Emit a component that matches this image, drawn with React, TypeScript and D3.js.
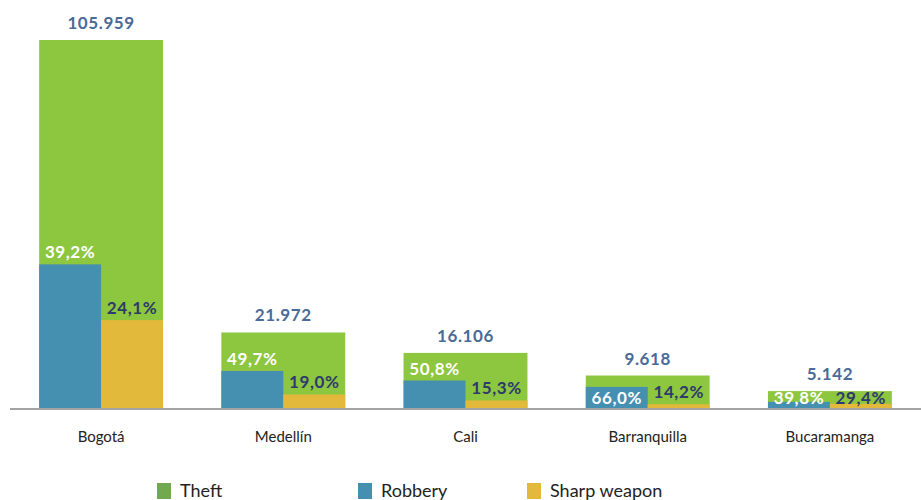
import React from "react";
import * as d3 from "d3";

const cities = ["Bogotá", "Medellín", "Cali", "Barranquilla", "Bucaramanga"];
const theft = [105.959, 21.972, 16.106, 9.618, 5.142];
const theftLabels = ["105.959", "21.972", "16.106", "9.618", "5.142"];
const robberyPct = [39.2, 49.7, 50.8, 66.0, 39.8];
const sharpPct = [24.1, 19.0, 15.3, 14.2, 29.4];
const legendItems = ["Theft", "Robbery", "Sharp weapon"];

const W = 921;
const H = 500;
const baseline = 409;
const topY = 40;
const GREEN = "#8dc63f";
const GREEN_LEG = "#72a84f";
const BLUE = "#458fb1";
const YELLOW = "#e2b93b";
const VAL_COLOR = "#4a6a98";
const DARK = "#2d3a6b";
const FONT = "Lato, 'Open Sans', sans-serif";

const fmtPct = (v: number) => v.toFixed(1).replace(".", ",") + "%";

export default function App() {
  const x = d3.scaleBand<string>().domain(cities).range([10, W]).paddingInner(0.32).paddingOuter(0.16);
  const y = d3.scaleLinear().domain([0, d3.max(theft) as number]).range([baseline, topY]);
  const bw = x.bandwidth();
  const legendX = [157, 358, 527];
  const legendColors = [GREEN_LEG, BLUE, YELLOW];
  const labelY = (barTop: number, greenTop: number) => {
    const above = barTop - 6;
    if (above - 12 < greenTop) return 404;
    return Math.min(above, 404);
  };
  return (
    <svg width={W} height={H} style={{ position: "absolute", left: 0, top: 0 }}>
      {cities.map((c, i) => {
        const x0 = x(c) as number;
        const yt = y(theft[i]);
        const rob = (theft[i] * robberyPct[i]) / 100;
        const sh = (theft[i] * sharpPct[i]) / 100;
        const yr = y(rob);
        const ys = y(sh);
        const half = bw / 2;
        return (
          <g key={c}>
            <rect x={x0} y={yt} width={bw} height={baseline - yt} fill={GREEN} />
            <rect x={x0} y={yr} width={half} height={baseline - yr} fill={BLUE} />
            <rect x={x0 + half} y={ys} width={half} height={baseline - ys} fill={YELLOW} />
            <text x={x0 + bw / 2} y={yt - 11} textAnchor="middle" fontFamily={FONT} fontWeight="bold" fontSize={17} fill={VAL_COLOR} letterSpacing={0.6}>
              {theftLabels[i]}
            </text>
            <text x={x0 + half / 2} y={labelY(yr, yt)} textAnchor="middle" fontFamily={FONT} fontWeight="bold" fontSize={17} fill="#ffffff" letterSpacing={0.6}>
              {fmtPct(robberyPct[i])}
            </text>
            <text x={x0 + half * 1.5} y={labelY(ys, yt)} textAnchor="middle" fontFamily={FONT} fontWeight="bold" fontSize={17} fill={DARK} letterSpacing={0.6}>
              {fmtPct(sharpPct[i])}
            </text>
            <text x={x0 + bw / 2} y={442} textAnchor="middle" fontFamily={FONT} fontSize={15} fill="#222">
              {c}
            </text>
          </g>
        );
      })}
      <line x1={10} x2={W} y1={baseline} y2={baseline} stroke="#a3a3a3" strokeWidth={2} />
      {legendItems.map((l, i) => (
        <g key={l}>
          <rect x={legendX[i]} y={483} width={14} height={16} fill={legendColors[i]} />
          <text x={legendX[i] + 23} y={497} fontFamily={FONT} fontSize={18} fill="#222">
            {l}
          </text>
        </g>
      ))}
    </svg>
  );
}
